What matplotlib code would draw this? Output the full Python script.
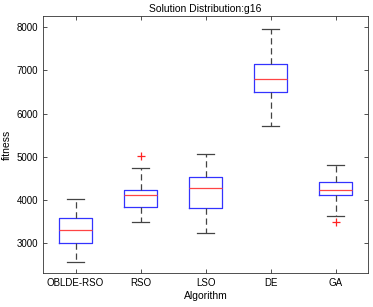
import matplotlib
matplotlib.use('Agg')
from matplotlib import pyplot as plt

plt.rcParams['font.family'] = ['Liberation Sans', 'DejaVu Sans']

algorithms = ['OBLDE-RSO', 'RSO', 'LSO', 'DE', 'GA']
whislo = [2565, 3480, 3225, 5710, 3640]
q1 = [3015, 3845, 3805, 6495, 4105]
med = [3300, 4125, 4280, 6805, 4240]
q3 = [3575, 4240, 4525, 7140, 4410]
whishi = [4015, 4745, 5060, 7970, 4815]
fliers = [[], [5010], [], [], [3480]]

stats = []
for i in range(len(algorithms)):
    stats.append({'label': algorithms[i], 'whislo': whislo[i], 'q1': q1[i],
                  'med': med[i], 'q3': q3[i], 'whishi': whishi[i],
                  'fliers': fliers[i]})

fig = plt.figure(figsize=(3.73, 3.07), dpi=100)
ax = fig.add_axes([0.1153, 0.1107, 0.8713, 0.8372])

ax.bxp(stats, widths=0.5,
       boxprops=dict(color='#3333ff', linewidth=0.9),
       medianprops=dict(color='#ff4444', linewidth=0.9),
       whiskerprops=dict(color='#444444', linestyle=(0, (5, 3)), linewidth=0.9),
       capprops=dict(color='#444444', linewidth=0.9),
       flierprops=dict(marker='+', markeredgecolor='#ff2222', markersize=6,
                       markeredgewidth=0.9, linestyle='none'))

ax.set_xlim(0.5, 5.5)
ax.set_ylim(2310, 8260)
ax.set_yticks([3000, 4000, 5000, 6000, 7000, 8000])
ax.tick_params(direction='in', top=True, right=True, labelsize=7, length=3,
               width=0.6, color='#333333')
for s in ax.spines.values():
    s.set_linewidth(0.6)
    s.set_color('#333333')

ax.set_title('Solution Distribution:g16', fontsize=7.5, pad=3)
ax.set_xlabel('Algorithm', fontsize=7.5, labelpad=2)
ax.set_ylabel('fitness', fontsize=7.5, labelpad=3)

fig.savefig('out.png', dpi=100)
